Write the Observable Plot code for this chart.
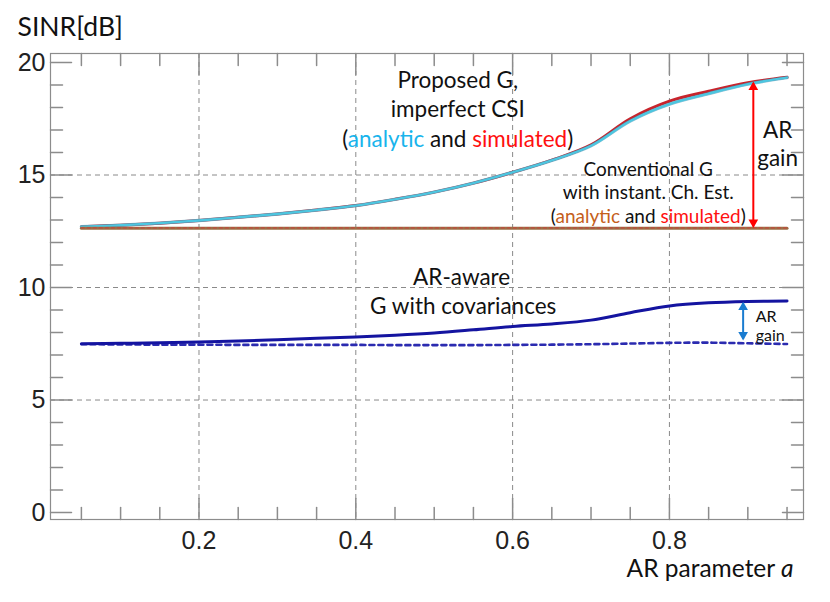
<!DOCTYPE html>
<html>
<head>
<meta charset="utf-8">
<script src="https://cdn.jsdelivr.net/npm/d3@7"></script>
<script src="https://cdn.jsdelivr.net/npm/@observablehq/plot@0.6"></script>
<style>
  html, body { margin: 0; padding: 0; background: #fff; }
  #chart svg { display: block; }
</style>
</head>
<body>
<div id="chart"></div>
<script>
// ---- data ----
const arParam = [0.05, 0.10, 0.15, 0.20, 0.25, 0.30, 0.35, 0.40, 0.45, 0.50, 0.55, 0.60, 0.65, 0.70, 0.75, 0.80, 0.85, 0.90, 0.95];
const proposedAnalytic  = [12.70, 12.77, 12.86, 12.98, 13.12, 13.27, 13.44, 13.64, 13.92, 14.24, 14.64, 15.12, 15.65, 16.30, 17.40, 18.15, 18.62, 19.04, 19.33];
const proposedSimulated = [12.70, 12.77, 12.86, 12.98, 13.12, 13.27, 13.44, 13.64, 13.92, 14.24, 14.64, 15.12, 15.66, 16.34, 17.50, 18.28, 18.72, 19.10, 19.34];
const conventionalAnalytic  = [12.63, 12.63, 12.63, 12.63, 12.63, 12.63, 12.63, 12.63, 12.63, 12.63, 12.63, 12.63, 12.63, 12.63, 12.63, 12.63, 12.63, 12.63, 12.63];
const conventionalSimulated = [12.65, 12.65, 12.65, 12.65, 12.65, 12.65, 12.65, 12.65, 12.65, 12.65, 12.65, 12.65, 12.65, 12.65, 12.65, 12.65, 12.65, 12.65, 12.65];
const arAwareCov   = [7.50, 7.52, 7.55, 7.58, 7.62, 7.68, 7.74, 7.80, 7.88, 7.98, 8.12, 8.27, 8.38, 8.55, 8.88, 9.18, 9.32, 9.38, 9.40];
const arAwareBase  = [7.48, 7.47, 7.46, 7.46, 7.45, 7.45, 7.45, 7.45, 7.44, 7.44, 7.44, 7.45, 7.46, 7.48, 7.51, 7.54, 7.55, 7.52, 7.49];

const xMajorTicks = [0.2, 0.4, 0.6, 0.8];
const xMinorTicks = [0.05, 0.1, 0.15, 0.2, 0.25, 0.3, 0.35, 0.4, 0.45, 0.5, 0.55, 0.6, 0.65, 0.7, 0.75, 0.8, 0.85, 0.9, 0.95];
const yMajorTicks = [0, 5, 10, 15, 20];
const yGridTicks = [5, 10, 15];
const yMinorTicks = [1, 2, 3, 4, 6, 7, 8, 9, 11, 12, 13, 14, 16, 17, 18, 19];

// AR gain arrows
const bigGain = [{a: 0.907, lo: 12.72, hi: 19.08}];
const smallGain = [{a: 0.894, lo: 7.72, hi: 9.30}];

// annotation labels
const proposedLines = [
  {a: 0.530, v: 19.17, t: "Proposed G,"},
  {a: 0.530, v: 17.90, t: "imperfect CSI"},
  {a: 0.530, v: 16.57, t: "(analytic and simulated)"}
];
const conventionalLines = [
  {a: 0.773, v: 15.24, t: "Conventional G"},
  {a: 0.773, v: 14.22, t: "with instant. Ch. Est."},
  {a: 0.773, v: 13.16, t: "(analytic and simulated) "}
];
const bigGainLabel = [
  {a: 0.938, v: 16.98, t: "AR"},
  {a: 0.938, v: 15.73, t: "gain"}
];
const arAwareLines = [
  {a: 0.535, v: 10.44, t: "AR-aware"},
  {a: 0.537, v: 9.16, t: "G with covariances"}
];
const smallGainLabel = [
  {a: 0.910, v: 8.70, t: "AR"},
  {a: 0.910, v: 7.84, t: "gain"}
];

const series = (ys) => arParam.map((a, i) => ({a, v: ys[i]}));

const tickShape = {draw(context, l) { context.moveTo(0, 0); context.lineTo(0, -l); }};
const TXT = "Lato";
const NUM = "Liberation Sans";
const CURVE = "catmull-rom";

const arrowHeads = (rows, color) => [
  Plot.dot(rows, {x: "a", y: "hi", symbol: "triangle", r: 3.6, fill: color, stroke: null, dy: 4}),
  Plot.dot(rows, {x: "a", y: "lo", symbol: "triangle", rotate: 180, r: 3.6, fill: color, stroke: null, dy: -4})
];

const chart = Plot.plot({
  width: 830,
  height: 602,
  marginLeft: 50,
  marginRight: 27,
  marginTop: 53,
  marginBottom: 83,
  x: {domain: [0.0106, 0.971]},
  y: {domain: [-0.31, 20.4]},
  style: {fontFamily: TXT, background: "#fff", color: "#111"},
  marks: [
    // grid
    Plot.ruleX(xMajorTicks, {stroke: "#8a8a8a", strokeWidth: 1, strokeDasharray: "5,4"}),
    Plot.ruleY(yGridTicks, {stroke: "#8a8a8a", strokeWidth: 1, strokeDasharray: "5,4"}),
    // frame
    Plot.frame({stroke: "#8c8c8c", strokeWidth: 1.2}),
    // frame ticks (inward)
    Plot.vector(xMinorTicks, {x: d => d, frameAnchor: "bottom", rotate: 0, anchor: "start", length: d => xMajorTicks.includes(d) ? 7 : 4, shape: tickShape, stroke: "#8c8c8c"}),
    Plot.vector(xMinorTicks, {x: d => d, frameAnchor: "top", rotate: 180, anchor: "start", length: d => xMajorTicks.includes(d) ? 7 : 4, shape: tickShape, stroke: "#8c8c8c"}),
    Plot.vector(yMinorTicks.concat(yMajorTicks), {y: d => d, frameAnchor: "left", rotate: 90, anchor: "start", length: d => yMajorTicks.includes(d) ? 7 : 4, shape: tickShape, stroke: "#8c8c8c"}),
    Plot.vector(yMinorTicks.concat(yMajorTicks), {y: d => d, frameAnchor: "right", rotate: -90, anchor: "start", length: d => yMajorTicks.includes(d) ? 7 : 4, shape: tickShape, stroke: "#8c8c8c"}),
    // axes labels
    Plot.axisX({ticks: xMajorTicks, tickSize: 0, tickPadding: 12, fontSize: 25, fontFamily: NUM, tickFormat: d3.format(".1f"), label: null, fill: "#222"}),
    Plot.axisY({ticks: yMajorTicks, tickSize: 0, tickPadding: 5, fontSize: 25, fontFamily: NUM, label: null, fill: "#222"}),
    // curves
    Plot.line(series(proposedSimulated), {x: "a", y: "v", stroke: "#c8242c", strokeWidth: 3, curve: CURVE}),
    Plot.line(series(proposedAnalytic), {x: "a", y: "v", stroke: "#3a8fb0", strokeWidth: 3.4, curve: CURVE, strokeOpacity: 0.55}),
    Plot.line(series(proposedAnalytic), {x: "a", y: "v", stroke: "#4cc6e0", strokeWidth: 2.4, curve: CURVE}),
    Plot.line(series(conventionalAnalytic), {x: "a", y: "v", stroke: "#9c7046", strokeWidth: 3, curve: CURVE}),
    Plot.line(series(conventionalSimulated), {x: "a", y: "v", stroke: "#c8403a", strokeWidth: 1.2, strokeDasharray: "3,3", strokeOpacity: 0.8, curve: CURVE}),
    Plot.line(series(arAwareBase), {x: "a", y: "v", stroke: "#2b2bb0", strokeWidth: 2.6, strokeDasharray: "5,4", curve: CURVE}),
    Plot.line(series(arAwareCov), {x: "a", y: "v", stroke: "#1414a0", strokeWidth: 3, curve: CURVE}),
    // gain arrows
    Plot.link(bigGain, {x1: "a", x2: "a", y1: "lo", y2: "hi", stroke: "#ff0000", strokeWidth: 2}),
    ...arrowHeads(bigGain, "#ff0000"),
    Plot.link(smallGain, {x1: "a", x2: "a", y1: "lo", y2: "hi", stroke: "#1a7cd0", strokeWidth: 2}),
    ...arrowHeads(smallGain, "#1a7cd0"),
    // annotations
    Plot.text(proposedLines, {x: "a", y: "v", text: "t", fontSize: 22.5, fill: "#111"}),
    Plot.text(conventionalLines, {x: "a", y: "v", text: "t", fontSize: 19, fill: "#111"}),
    Plot.text(bigGainLabel, {x: "a", y: "v", text: "t", fontSize: 22.5, fill: "#111"}),
    Plot.text(arAwareLines, {x: "a", y: "v", text: "t", fontSize: 22.5, fill: "#111"}),
    Plot.text(smallGainLabel, {x: "a", y: "v", text: "t", fontSize: 16, fill: "#111", textAnchor: "start"}),
    // axis titles
    Plot.text(["SINR[dB]"], {frameAnchor: "top-left", lineAnchor: "middle", dx: -33, dy: -26, textAnchor: "start", fontSize: 26.5, fill: "#111"}),
    Plot.text(["AR parameter a"], {frameAnchor: "bottom-right", lineAnchor: "middle", dx: -10, dy: 50, textAnchor: "end", fontSize: 24.5, fill: "#111"})
  ]
});

// colour individual words / italic variable
const NS = "http://www.w3.org/2000/svg";
function rebuild(el, parts) {
  while (el.firstChild) el.removeChild(el.firstChild);
  for (const [txt, attrs] of parts) {
    const ts = document.createElementNS(NS, "tspan");
    ts.textContent = txt;
    for (const k in attrs) ts.setAttribute(k, attrs[k]);
    el.appendChild(ts);
  }
}
chart.querySelectorAll("text").forEach(el => {
  const s = el.textContent;
  if (s === "(analytic and simulated)") {
    rebuild(el, [["(", {}], ["analytic", {fill: "#18b4ec"}], [" and ", {}], ["simulated", {fill: "#ff1010"}], [")", {}]]);
  } else if (s === "(analytic and simulated) ") {
    rebuild(el, [["(", {}], ["analytic", {fill: "#c5601a"}], [" and ", {}], ["simulated", {fill: "#ff1010"}], [")", {}]]);
  } else if (s === "AR parameter a") {
    rebuild(el, [["AR parameter ", {}], ["a", {"font-style": "italic"}]]);
  }
});

document.getElementById("chart").appendChild(chart);
</script>
</body>
</html>
